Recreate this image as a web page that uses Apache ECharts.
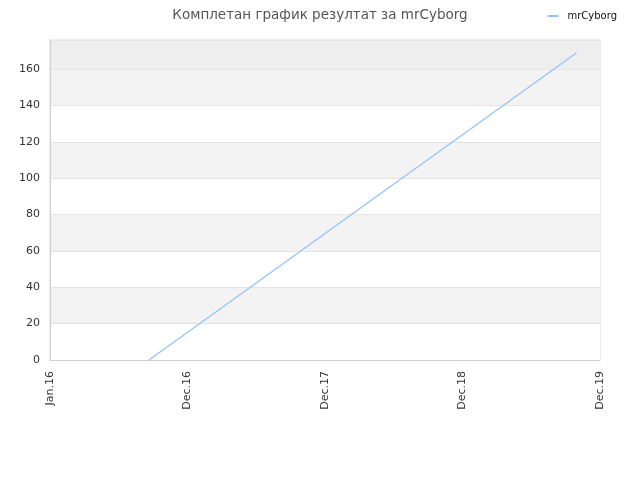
<!DOCTYPE html>
<html>
<head>
<meta charset="utf-8">
<script src="https://cdn.jsdelivr.net/npm/echarts@6/dist/echarts.min.js"></script>
<style>
  html, body { margin: 0; padding: 0; background: #fff; }
  #main { width: 640px; height: 480px; }
</style>
</head>
<body>
<div id="main"></div>
<script>
var tickLabels = ['Jan.16', 'Dec.16', 'Dec.17', 'Dec.18', 'Dec.19'];
var seriesName = 'mrCyborg';
// x is position along the tick labels (0 = Jan.16 ... 4 = Dec.19)
var pointX = [0.72, 3.83];
var pointY = [0, 169];

var chartDom = document.getElementById('main');
var myChart = echarts.init(chartDom, null, { renderer: 'canvas' });

var lineData = pointX.map(function (x, i) {
  return [x, pointY[i]];
});

var option = {
  animation: false,
  backgroundColor: '#ffffff',
  textStyle: { fontFamily: 'DejaVu Sans' },
  title: {
    text: 'Комплетан график резултат за mrCyborg',
    left: 'center',
    top: 3,
    textStyle: {
      fontSize: 13.5,
      fontWeight: 'normal',
      color: '#555555',
      fontFamily: 'DejaVu Sans'
    }
  },
  legend: {
    right: 18,
    top: 6,
    itemWidth: 11,
    itemHeight: 2,
    itemGap: 6,
    icon: 'rect',
    textStyle: { fontSize: 10, color: '#111111', fontFamily: 'DejaVu Sans', padding: [0, 0, 0, 4] },
    data: [seriesName]
  },
  grid: {
    left: 50,
    right: 40,
    top: 40,
    bottom: 120,
    show: true,
    borderColor: '#dddddd',
    borderWidth: 1,
    backgroundColor: 'transparent'
  },
  xAxis: {
    type: 'value',
    min: 0,
    max: tickLabels.length - 1,
    interval: 1,
    axisLine: { show: true, lineStyle: { color: '#d0d0d0' } },
    axisTick: { show: false },
    splitLine: { show: false },
    axisLabel: {
      rotate: 90,
      fontSize: 11,
      color: '#333333',
      margin: 11,
      formatter: function (v) {
        return tickLabels[Math.round(v)];
      }
    }
  },
  yAxis: {
    type: 'value',
    min: 0,
    max: 176,
    interval: 20,
    axisLine: { show: true, lineStyle: { color: '#d0d0d0' } },
    axisTick: { show: false },
    axisLabel: { fontSize: 11, color: '#333333', margin: 10, showMaxLabel: false },
    splitLine: { show: true, lineStyle: { color: '#e4e4e4' } },
    splitArea: {
      show: true,
      areaStyle: {
        color: ['#ffffff', '#f3f3f3', '#ffffff', '#f3f3f3', '#ffffff',
                '#f3f3f3', '#ffffff', '#f3f3f3', '#eeeeee']
      }
    }
  },
  series: [
    {
      name: seriesName,
      type: 'line',
      data: lineData,
      showSymbol: false,
      symbol: 'none',
      lineStyle: { color: '#94c4f3', width: 1.3 },
      itemStyle: { color: '#94c4f3' }
    }
  ]
};

myChart.setOption(option);
window.addEventListener('resize', myChart.resize);
</script>
</body>
</html>
